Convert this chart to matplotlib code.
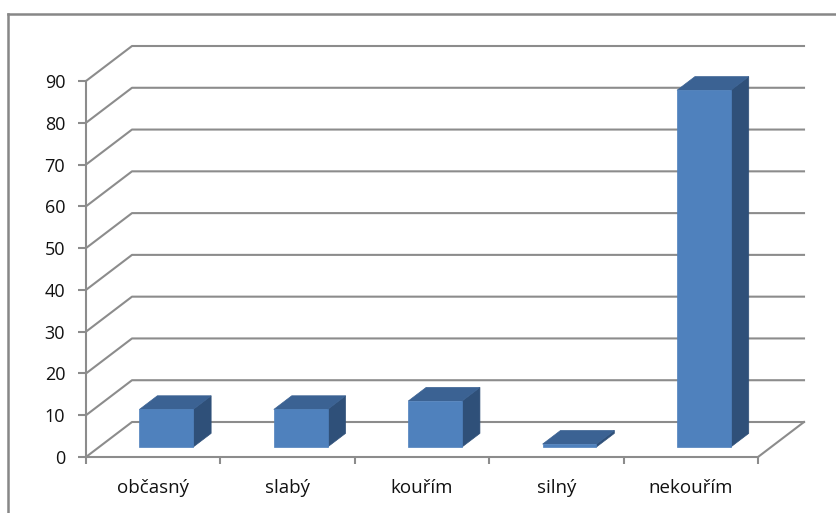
import matplotlib
matplotlib.use("Agg")
import matplotlib.pyplot as plt
from matplotlib.patches import Polygon
from matplotlib.lines import Line2D

categories = ["občasný", "slabý", "kouřím", "silný", "nekouřím"]
values = [9, 9, 11, 0.7, 85.4]
yticks = [0, 10, 20, 30, 40, 50, 60, 70, 80, 90]

plt.rcParams['font.family'] = ['Open Sans', 'DejaVu Sans']

W, H = 837, 513
fig = plt.figure(figsize=(W / 100, H / 100), dpi=100)
fig.patch.set_facecolor("white")

# chart frame
fig.add_artist(Line2D([8 / W, 8 / W], [0, 1 - 14 / H], color="#878787", lw=1.8, transform=fig.transFigure))
fig.add_artist(Line2D([8 / W, 1], [1 - 14 / H, 1 - 14 / H], color="#878787", lw=1.8, transform=fig.transFigure))

n = len(categories)
ax = fig.add_axes([86 / W, (H - 457) / H, 672 / W, 376 / H])
ax.set_xlim(0, n)
ax.set_ylim(0, 90)
ax.patch.set_alpha(0)

# oblique depth in data units
px_x = n / 672.0
px_y = 90 / 376.0
dx = 46 * px_x
dy = 35 * px_y

grid_c = "#8c8c8c"
for v in yticks:
    ax.plot([0, dx, n + dx], [v, v + dy, v + dy], color=grid_c, lw=1.5, clip_on=False, zorder=1)
ax.plot([n, n + dx], [0, dy], color=grid_c, lw=1.5, clip_on=False, zorder=1)

for s in ["top", "right"]:
    ax.spines[s].set_visible(False)
for s in ["left", "bottom"]:
    ax.spines[s].set_color(grid_c)
    ax.spines[s].set_linewidth(1.5)

ax.set_yticks(yticks)
ax.set_yticklabels([str(t) for t in yticks], fontsize=13, color="#111111")
ax.tick_params(axis="y", length=6, width=1.5, color=grid_c, pad=9)
ax.set_xticks(range(n + 1))
ax.set_xticklabels([""] * (n + 1))
ax.tick_params(axis="x", which="major", length=5, width=1.5, color=grid_c)
ax.set_xticks([i + 0.5 for i in range(n)], minor=True)
ax.set_xticklabels(categories, minor=True, fontsize=13.5, color="#111111")
ax.tick_params(axis="x", which="minor", length=0, pad=16)

front_c = "#4f81bd"
top_c = "#3b6293"
side_c = "#2f5079"
f0, f1 = 0.285, 0.675
bw = 0.4
for i, v in enumerate(values):
    x0 = i + 0.5 - bw / 2 + f0 * dx
    x1 = x0 + bw
    y0 = f0 * dy
    y1 = y0 + v
    ddx = (f1 - f0) * dx
    ddy = (f1 - f0) * dy
    ax.add_patch(Polygon([(x1, y0), (x1 + ddx, y0 + ddy), (x1 + ddx, y1 + ddy), (x1, y1)],
                         closed=True, facecolor=side_c, edgecolor=side_c, lw=0.5, zorder=3, clip_on=False))
    ax.add_patch(Polygon([(x0, y1), (x0 + ddx, y1 + ddy), (x1 + ddx, y1 + ddy), (x1, y1)],
                         closed=True, facecolor=top_c, edgecolor=top_c, lw=0.5, zorder=3, clip_on=False))
    ax.add_patch(Polygon([(x0, y0), (x1, y0), (x1, y1), (x0, y1)],
                         closed=True, facecolor=front_c, edgecolor=front_c, lw=0.5, zorder=4, clip_on=False))

fig.savefig("out.png", dpi=100)
